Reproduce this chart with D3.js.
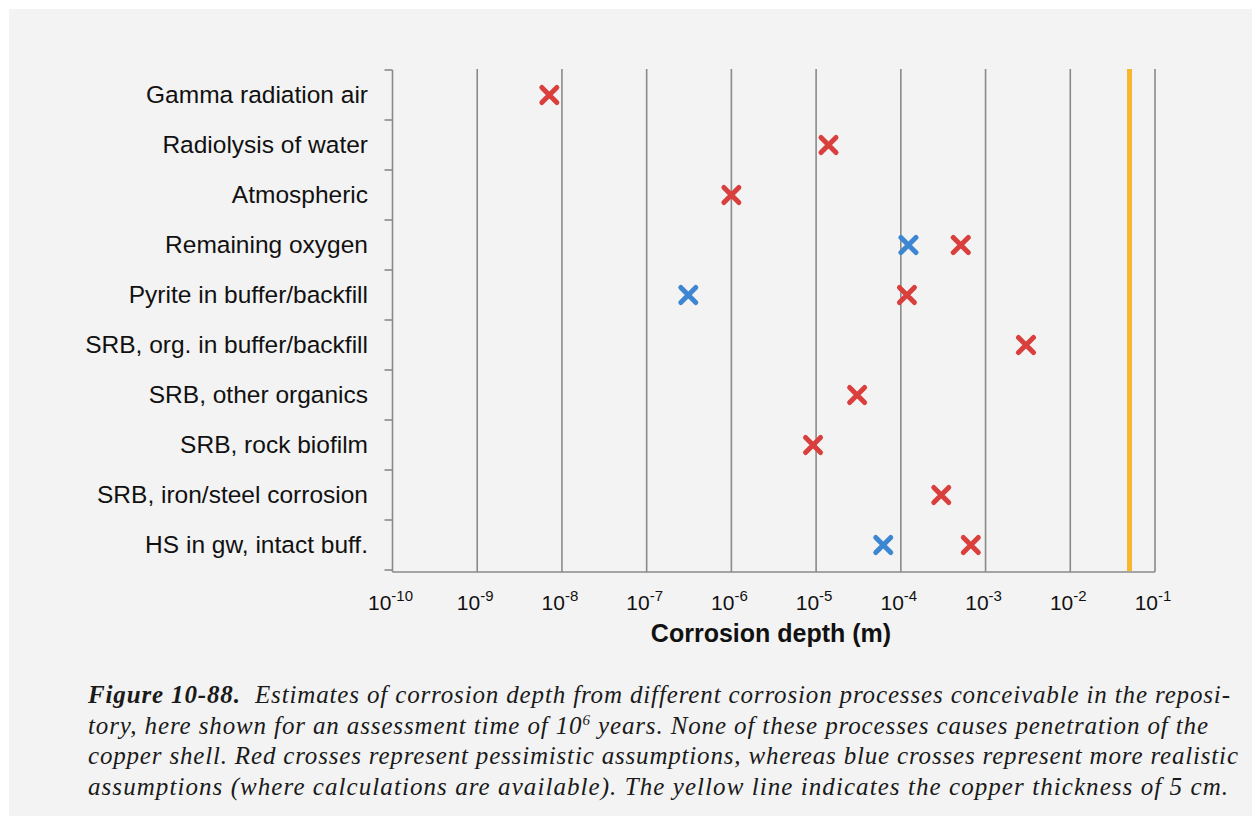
<!DOCTYPE html>
<html>
<head>
<meta charset="utf-8">
<script src="https://cdn.jsdelivr.net/npm/d3@7"></script>
<style>
  body { margin: 0; background: #ffffff; }
  svg { display: block; }
</style>
</head>
<body>
<svg id="chart" width="1252" height="816"></svg>
<script>
// -------------------- DATA -------------------- //
const processes = [
    "Gamma radiation air",
    "Radiolysis of water",
    "Atmospheric",
    "Remaining oxygen",
    "Pyrite in buffer/backfill",
    "SRB, org. in buffer/backfill",
    "SRB, other organics",
    "SRB, rock biofilm",
    "SRB, iron/steel corrosion",
    "HS in gw, intact buff."
];
// pessimistic (red) estimates, metres
const pessimistic = [7.1e-9, 1.4e-5, 1.0e-6, 5.1e-4, 1.18e-4, 3.0e-3, 3.05e-5, 9.2e-6, 3.0e-4, 6.7e-4];
// realistic (blue) estimates, null where not available
const realistic = [null, null, null, 1.23e-4, 3.1e-7, null, null, null, null, 6.2e-5];
const tickExponents = [-10, -9, -8, -7, -6, -5, -4, -3, -2, -1];
const copperThickness = 0.05;

// caption segments: [text, bold, superscript]
const captionLines = [
    [["Figure 10-88.", true], ["  Estimates of corrosion depth from different corrosion processes conceivable in the reposi-", false]],
    [["tory, here shown for an assessment time of 10", false], ["6", false, true], [" years. None of these processes causes penetration of the", false]],
    [["copper shell. Red crosses represent pessimistic assumptions, whereas blue crosses represent more realistic", false]],
    [["assumptions (where calculations are available). The yellow line indicates the copper thickness of 5 cm.", false]]
];
const captionWidths = [1142, 1120, 1150, 1140];

// -------------------- SETUP -------------------- //
const svg = d3.select("#chart");
const plotLeft = 392.5, plotRight = 1155, plotTop = 70, plotBottom = 570;

svg.append("rect")
    .attr("x", 9).attr("y", 9).attr("width", 1243).attr("height", 807)
    .attr("fill", "#f3f3f3");

const x = d3.scaleLog().domain([1e-10, 1e-1]).range([plotLeft, plotRight]);
const y = d3.scaleBand().domain(processes).range([plotTop, plotBottom]);

const gridColor = "#8a8a8a";

// vertical grid lines at each decade
svg.append("g").selectAll("line")
    .data(tickExponents.slice(1))
    .join("line")
    .attr("x1", d => x(Math.pow(10, d))).attr("x2", d => x(Math.pow(10, d)))
    .attr("y1", plotTop - 1).attr("y2", plotBottom + 2)
    .attr("stroke", gridColor).attr("stroke-width", 1.6);

// left axis with ticks between categories
const yAxis = svg.append("g");
yAxis.append("line")
    .attr("x1", plotLeft).attr("x2", plotLeft).attr("y1", plotTop).attr("y2", plotBottom + 2)
    .attr("stroke", gridColor).attr("stroke-width", 1.6);
yAxis.selectAll("line.tick")
    .data(d3.range(processes.length + 1))
    .join("line").attr("class", "tick")
    .attr("x1", plotLeft - 8).attr("x2", plotLeft)
    .attr("y1", d => plotTop + d * y.step()).attr("y2", d => plotTop + d * y.step())
    .attr("stroke", gridColor).attr("stroke-width", 1.6);

yAxis.selectAll("text")
    .data(processes)
    .join("text")
    .attr("x", 368)
    .attr("y", d => y(d) + y.bandwidth() / 2 + 8)
    .attr("text-anchor", "end")
    .attr("font-family", "Liberation Sans, Arial, sans-serif")
    .attr("font-size", 24.5)
    .attr("fill", "#111")
    .text(d => d);

// bottom axis line
svg.append("line")
    .attr("x1", plotLeft).attr("x2", plotRight).attr("y1", plotBottom + 2).attr("y2", plotBottom + 2)
    .attr("stroke", gridColor).attr("stroke-width", 1.6);

// tick labels 10^n
const tl = svg.append("g").selectAll("text")
    .data(tickExponents)
    .join("text")
    .attr("x", d => x(Math.pow(10, d)) - 2)
    .attr("y", 610)
    .attr("text-anchor", "middle")
    .attr("font-family", "Liberation Sans, Arial, sans-serif")
    .attr("font-size", 21)
    .attr("fill", "#111");
tl.append("tspan").text("10");
tl.append("tspan").attr("dy", -9).attr("font-size", 15).text(d => "-" + Math.abs(d));

svg.append("text")
    .attr("x", 771)
    .attr("y", 642)
    .attr("text-anchor", "middle")
    .attr("font-family", "Liberation Sans, Arial, sans-serif")
    .attr("font-weight", "bold")
    .attr("font-size", 25)
    .attr("fill", "#111")
    .text("Corrosion depth (m)");

// copper thickness line
svg.append("line")
    .attr("x1", x(copperThickness)).attr("x2", x(copperThickness))
    .attr("y1", plotTop - 1).attr("y2", plotBottom + 1)
    .attr("stroke", "#f6b82e").attr("stroke-width", 5);

// crosses
function cross(g, px, py, color) {
    const s = 7.5;
    g.append("path")
        .attr("d", `M${px - s},${py - s}L${px + s},${py + s}M${px - s},${py + s}L${px + s},${py - s}`)
        .attr("stroke", color).attr("stroke-width", 5).attr("stroke-linecap", "round")
        .attr("fill", "none");
}
const marks = svg.append("g");
processes.forEach((p, i) => {
    const cy = y(p) + y.bandwidth() / 2;
    if (realistic[i] != null) cross(marks, x(realistic[i]), cy, "#3d86d2");
    cross(marks, x(pessimistic[i]), cy, "#d9403d");
});

// caption
const cap = svg.append("g")
    .attr("font-family", "Liberation Serif, Times New Roman, serif")
    .attr("font-style", "italic")
    .attr("font-size", 25)
    .attr("fill", "#1a1a1a");
captionLines.forEach((line, i) => {
    const t = cap.append("text")
        .attr("x", 88)
        .attr("y", 703 + i * 30.7)
        .attr("textLength", captionWidths[i])
        .attr("lengthAdjust", "spacing")
        .attr("xml:space", "preserve");
    let afterSup = false;
    line.forEach(seg => {
        const ts = t.append("tspan").text(seg[0]);
        if (seg[1]) ts.attr("font-weight", "bold");
        if (seg[2]) {
            ts.attr("dy", -9).attr("font-size", 15);
            afterSup = true;
        } else if (afterSup) {
            ts.attr("dy", 9);
            afterSup = false;
        }
    });
});
</script>
</body>
</html>
